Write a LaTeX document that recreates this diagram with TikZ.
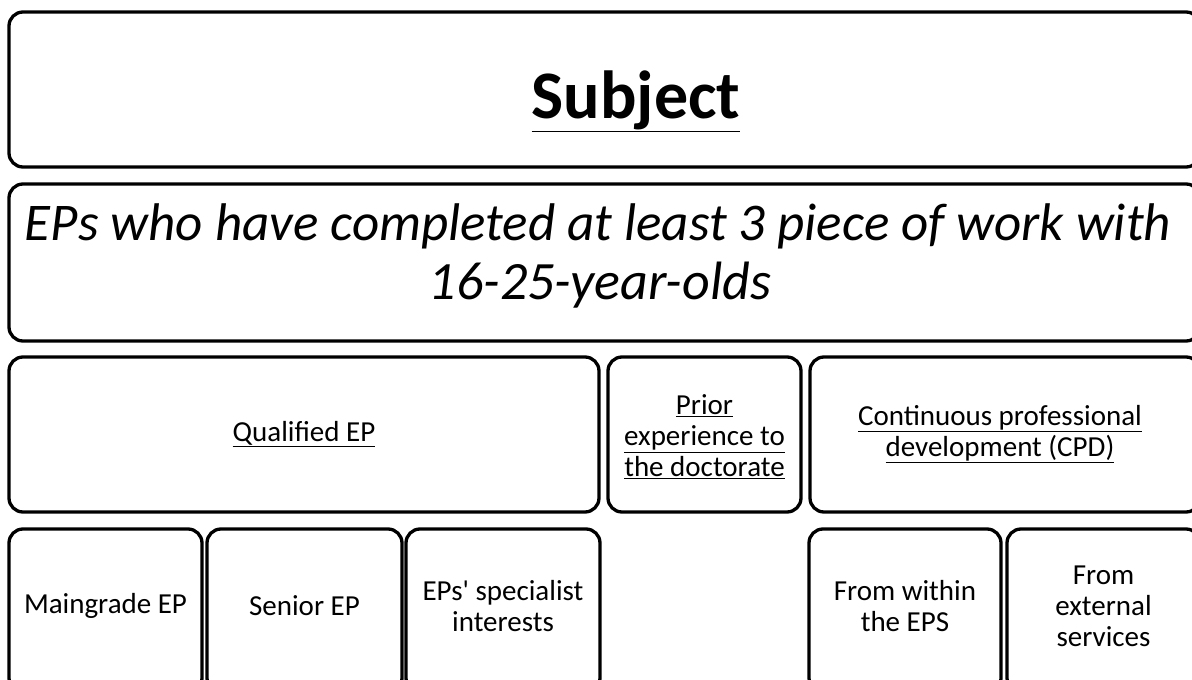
\documentclass[tikz,border=0pt]{standalone}
\usepackage{fontspec}
\setmainfont{Carlito}
% same face without TeX ligature mapping, for a straight apostrophe
\newfontfamily\carlitoplain{Carlito}
\begin{document}
\begin{tikzpicture}[x=1pt,y=-1pt,
  box/.style={draw=black, line width=3.3pt, rounded corners=14pt, inner sep=0pt, outer sep=0pt, fill=white},
  lbl/.style={inner sep=0pt, align=center, text=black},
  small/.style={lbl, font=\fontsize{29}{31}\selectfont}
]
\useasboundingbox (0,0) rectangle (1192,680);
\begin{scope}
\clip (0,0) rectangle (1192,680);
% header boxes
\node[box, minimum width=1191pt, minimum height=155pt] (subjbox) at (604.5,89.5) {};
\node[box, minimum width=1191pt, minimum height=157pt] (epsbox) at (604.5,262.5) {};
% third row
\node[box, minimum width=590pt, minimum height=155pt] (qual) at (304,434.5) {};
\node[box, minimum width=193pt, minimum height=155pt] (prior) at (704.5,434.5) {};
\node[box, minimum width=390pt, minimum height=155pt] (cpd) at (1005,434.5) {};
% fourth row
\node[box, minimum width=193pt, minimum height=163pt] (maingrade) at (105.5,610.5) {};
\node[box, minimum width=195pt, minimum height=163pt] (senior) at (304.5,610.5) {};
\node[box, minimum width=194pt, minimum height=163pt] (special) at (503,610.5) {};
\node[box, minimum width=192pt, minimum height=163pt] (within) at (905,610.5) {};
\node[box, minimum width=193pt, minimum height=163pt] (external) at (1103.5,610.5) {};
\end{scope}
% texts
\node[lbl, font=\fontsize{68}{72}\bfseries\selectfont, anchor=base] (subjtxt) at (636,118) {\underline{Subject}};
\node[lbl, font=\fontsize{53}{59}\itshape\selectfont, anchor=base] (epstxt) at (598,240) {EPs who have completed at least 3 piece of work with};
\node[lbl, font=\fontsize{54}{59}\itshape\selectfont, anchor=base] (epstxtb) at (600,299) {16-25-year-olds};
\node[small] (qualtxt) at (304,434) {\underline{Qualified EP}};
\node[small] (priortxt) at (704.5,437) {\underline{Prior}\\\underline{experience to}\\\underline{the doctorate}};
\node[small] (cpdtxt) at (1000,434) {\underline{Continuous professional}\\\underline{development (CPD)}};
\node[small] (maintxt) at (105.5,606) {Maingrade EP};
\node[small] (seniortxt) at (304.5,606) {Senior EP};
\node[small] (specialtxt) at (503,606) {EPs{\carlitoplain '} specialist\\interests};
\node[small] (withintxt) at (905,606) {From within\\the EPS};
\node[small] (externaltxt) at (1103.5,606) {From\\external\\services};
\end{tikzpicture}
\end{document}
